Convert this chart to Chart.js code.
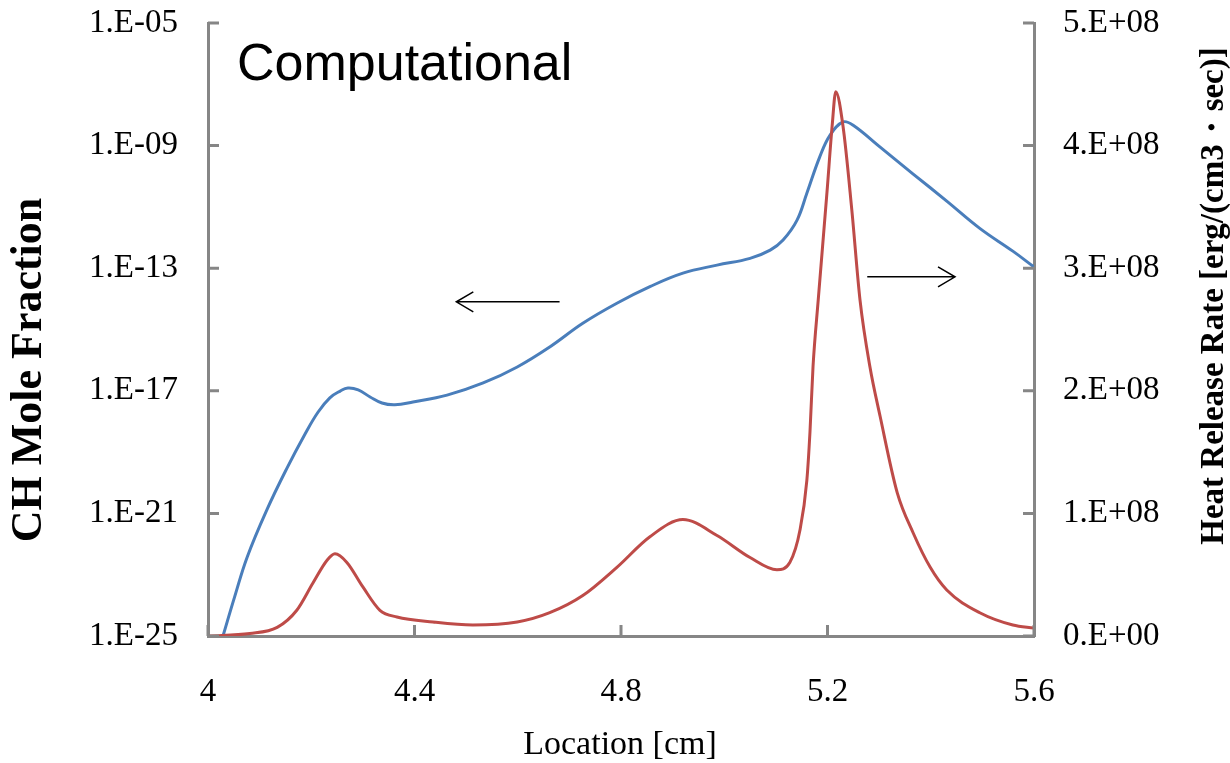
<!DOCTYPE html>
<html>
<head>
<meta charset="utf-8">
<script src="https://cdn.jsdelivr.net/npm/chart.js@4/dist/chart.umd.min.js"></script>
<style>
  body { margin: 0; background: #fff; }
</style>
</head>
<body>
<canvas id="chart" width="1230" height="763"></canvas>
<script>
// CH mole fraction (left axis, log)
const chLocation = [4.029, 4.052, 4.076, 4.114, 4.153, 4.188, 4.213, 4.236, 4.256, 4.271, 4.291, 4.314, 4.337,
  4.362, 4.397, 4.463, 4.533, 4.599, 4.662, 4.726, 4.792, 4.856, 4.92, 4.986, 5.05, 5.089, 5.114, 5.141,
  5.16, 5.185, 5.205, 5.23, 5.249, 5.302, 5.366, 5.431, 5.495, 5.559, 5.6];
const chFraction = [1.0e-25, 2.0e-24, 3.8e-23, 1.3e-21, 3.0e-20, 3.9e-19, 2.0e-18, 5.9e-18, 9.8e-18, 1.23e-17,
  1.07e-17, 6.3e-18, 4.0e-18, 3.5e-18, 4.3e-18, 7.2e-18, 1.8e-17, 6.0e-17, 2.7e-16, 1.6e-15, 7.2e-15,
  2.5e-14, 6.9e-14, 1.26e-13, 2.1e-13, 3.9e-13, 8.3e-13, 3.7e-12, 2.8e-11, 4.3e-10, 2.2e-9, 5.9e-9, 4.7e-9,
  8.9e-10, 1.18e-10, 1.55e-11, 2.0e-12, 3.6e-13, 1.1e-13];

// heat release rate (right axis, erg/(cm3 sec))
const hrrLocation = [4.0, 4.081, 4.134, 4.172, 4.203, 4.231, 4.246, 4.269, 4.3, 4.333, 4.366, 4.436, 4.513,
  4.599, 4.662, 4.726, 4.792, 4.856, 4.92, 4.986, 5.05, 5.102, 5.127, 5.147, 5.16, 5.166, 5.172, 5.182,
  5.199, 5.209, 5.216, 5.23, 5.247, 5.263, 5.282, 5.302, 5.335, 5.366, 5.399, 5.431, 5.495, 5.559, 5.6];
const hrrValue = [0, 0.02e8, 0.07e8, 0.21e8, 0.43e8, 0.62e8, 0.67e8, 0.60e8, 0.40e8, 0.21e8, 0.155e8, 0.114e8,
  0.09e8, 0.114e8, 0.19e8, 0.33e8, 0.56e8, 0.81e8, 0.95e8, 0.82e8, 0.64e8, 0.54e8, 0.60e8, 0.87e8, 1.27e8,
  1.66e8, 2.20e8, 2.74e8, 3.62e8, 4.16e8, 4.44e8, 4.16e8, 3.48e8, 2.74e8, 2.20e8, 1.79e8, 1.17e8, 0.84e8,
  0.56e8, 0.375e8, 0.19e8, 0.09e8, 0.065e8];

const xTicks = [4, 4.4, 4.8, 5.2, 5.6];
const leftTicks = [1e-25, 1e-21, 1e-17, 1e-13, 1e-9, 1e-5];
const rightTicks = [0, 1e8, 2e8, 3e8, 4e8, 5e8];

// arrows: [xFrom, xTo, y, axis]
const arrows = [
  [4.681, 4.481, 8e-15, 'y'],
  [5.277, 5.447, 2.93e8, 'y1']
];

const axisGray = '#868686';
const serif = '"Liberation Serif", "Times New Roman", serif';

// keep the plot area where the layout padding puts it
const noPad = s => { s.paddingTop = 0; s.paddingBottom = 0; s.paddingLeft = 0; s.paddingRight = 0; };

const extras = {
  id: 'extras',
  afterDraw(chart) {
    const ctx = chart.ctx;
    const a = chart.chartArea;
    const sx = chart.scales.x, sl = chart.scales.y, sr = chart.scales.y1;
    ctx.save();
    // inward tick marks
    ctx.strokeStyle = axisGray;
    ctx.lineWidth = 3;
    ctx.beginPath();
    sl.ticks.forEach(t => {
      const py = sl.getPixelForValue(t.value);
      ctx.moveTo(a.left, py); ctx.lineTo(a.left + 11, py);
    });
    sr.ticks.forEach(t => {
      const py = sr.getPixelForValue(t.value);
      ctx.moveTo(a.right, py); ctx.lineTo(a.right - 11, py);
    });
    sx.ticks.forEach(t => {
      const px = sx.getPixelForValue(t.value);
      ctx.moveTo(px, a.bottom); ctx.lineTo(px, a.bottom - 11);
    });
    ctx.stroke();

    // arrows
    ctx.strokeStyle = '#000';
    ctx.lineWidth = 1.5;
    arrows.forEach(([x0, x1, yv, axis]) => {
      const p0 = sx.getPixelForValue(x0), p1 = sx.getPixelForValue(x1);
      const py = chart.scales[axis].getPixelForValue(yv);
      const dir = p1 > p0 ? -1 : 1;
      ctx.beginPath();
      ctx.moveTo(p0, py); ctx.lineTo(p1, py);
      ctx.moveTo(p1 + dir * 17, py - 10); ctx.lineTo(p1, py); ctx.lineTo(p1 + dir * 17, py + 10);
      ctx.stroke();
    });

    // texts
    ctx.fillStyle = '#000';
    ctx.font = '52px "Liberation Sans", Arial, sans-serif';
    ctx.textAlign = 'left';
    ctx.textBaseline = 'alphabetic';
    ctx.fillText('Computational', 237, 80);

    ctx.textAlign = 'center';
    ctx.textBaseline = 'middle';
    ctx.font = '34px ' + serif;
    ctx.fillText('Location [cm]', 620, 745);

    ctx.save();
    ctx.translate(30, 370);
    ctx.rotate(-Math.PI / 2);
    ctx.font = 'bold 44px ' + serif;
    ctx.fillText('CH Mole Fraction', 0, 0);
    ctx.restore();

    ctx.save();
    ctx.translate(1214, 296);
    ctx.rotate(-Math.PI / 2);
    ctx.font = 'bold 33px ' + serif;
    ctx.fillText('Heat Release Rate [erg/(cm3\u30FBsec)]', 0, 0);
    ctx.restore();

    ctx.restore();
  }
};

new Chart(document.getElementById('chart'), {
  type: 'line',
  data: {
    datasets: [
      {
        label: 'Heat Release Rate',
        data: hrrLocation.map((x, i) => ({ x: x, y: hrrValue[i] })),
        yAxisID: 'y1',
        borderColor: '#be4b48',
        borderWidth: 3,
        pointRadius: 0,
        cubicInterpolationMode: 'monotone'
      },
      {
        label: 'CH Mole Fraction',
        data: chLocation.map((x, i) => ({ x: x, y: chFraction[i] })),
        yAxisID: 'y',
        borderColor: '#4a7ebb',
        borderWidth: 3,
        pointRadius: 0,
        tension: 0.4
      }
    ]
  },
  options: {
    responsive: false,
    animation: false,
    layout: { padding: { top: 23, left: 0, right: 0, bottom: 0 } },
    plugins: { legend: { display: false }, tooltip: { enabled: false } },
    scales: {
      x: {
        type: 'linear',
        min: 4, max: 5.6,
        afterBuildTicks: s => { s.ticks = xTicks.map(v => ({ value: v })); },
        afterFit: s => { s.height = 127; noPad(s); },
        grid: { display: false, drawTicks: false },
        border: { color: axisGray, width: 3 },
        ticks: {
          color: '#000', padding: 37,
          font: { family: serif, size: 33 },
          maxRotation: 0,
          callback: v => String(v)
        }
      },
      y: {
        type: 'logarithmic',
        position: 'left',
        min: 1e-25, max: 1e-5,
        afterBuildTicks: s => { s.ticks = leftTicks.map(v => ({ value: v })); },
        afterFit: s => { s.width = 208; noPad(s); },
        grid: { display: false, drawTicks: false },
        border: { color: axisGray, width: 3 },
        ticks: {
          color: '#000', padding: 30,
          font: { family: serif, size: 33 },
          callback: v => '1.E-' + String(-Math.round(Math.log10(v))).padStart(2, '0')
        }
      },
      y1: {
        type: 'linear',
        position: 'right',
        min: 0, max: 5e8,
        afterBuildTicks: s => { s.ticks = rightTicks.map(v => ({ value: v })); },
        afterFit: s => { s.width = 196; noPad(s); },
        grid: { display: false, drawTicks: false },
        border: { color: axisGray, width: 3 },
        ticks: {
          color: '#000', padding: 29,
          font: { family: serif, size: 33 },
          callback: v => v === 0 ? '0.E+00' : Math.round(v / 1e8) + '.E+08'
        }
      }
    }
  },
  plugins: [extras]
});
</script>
</body>
</html>
